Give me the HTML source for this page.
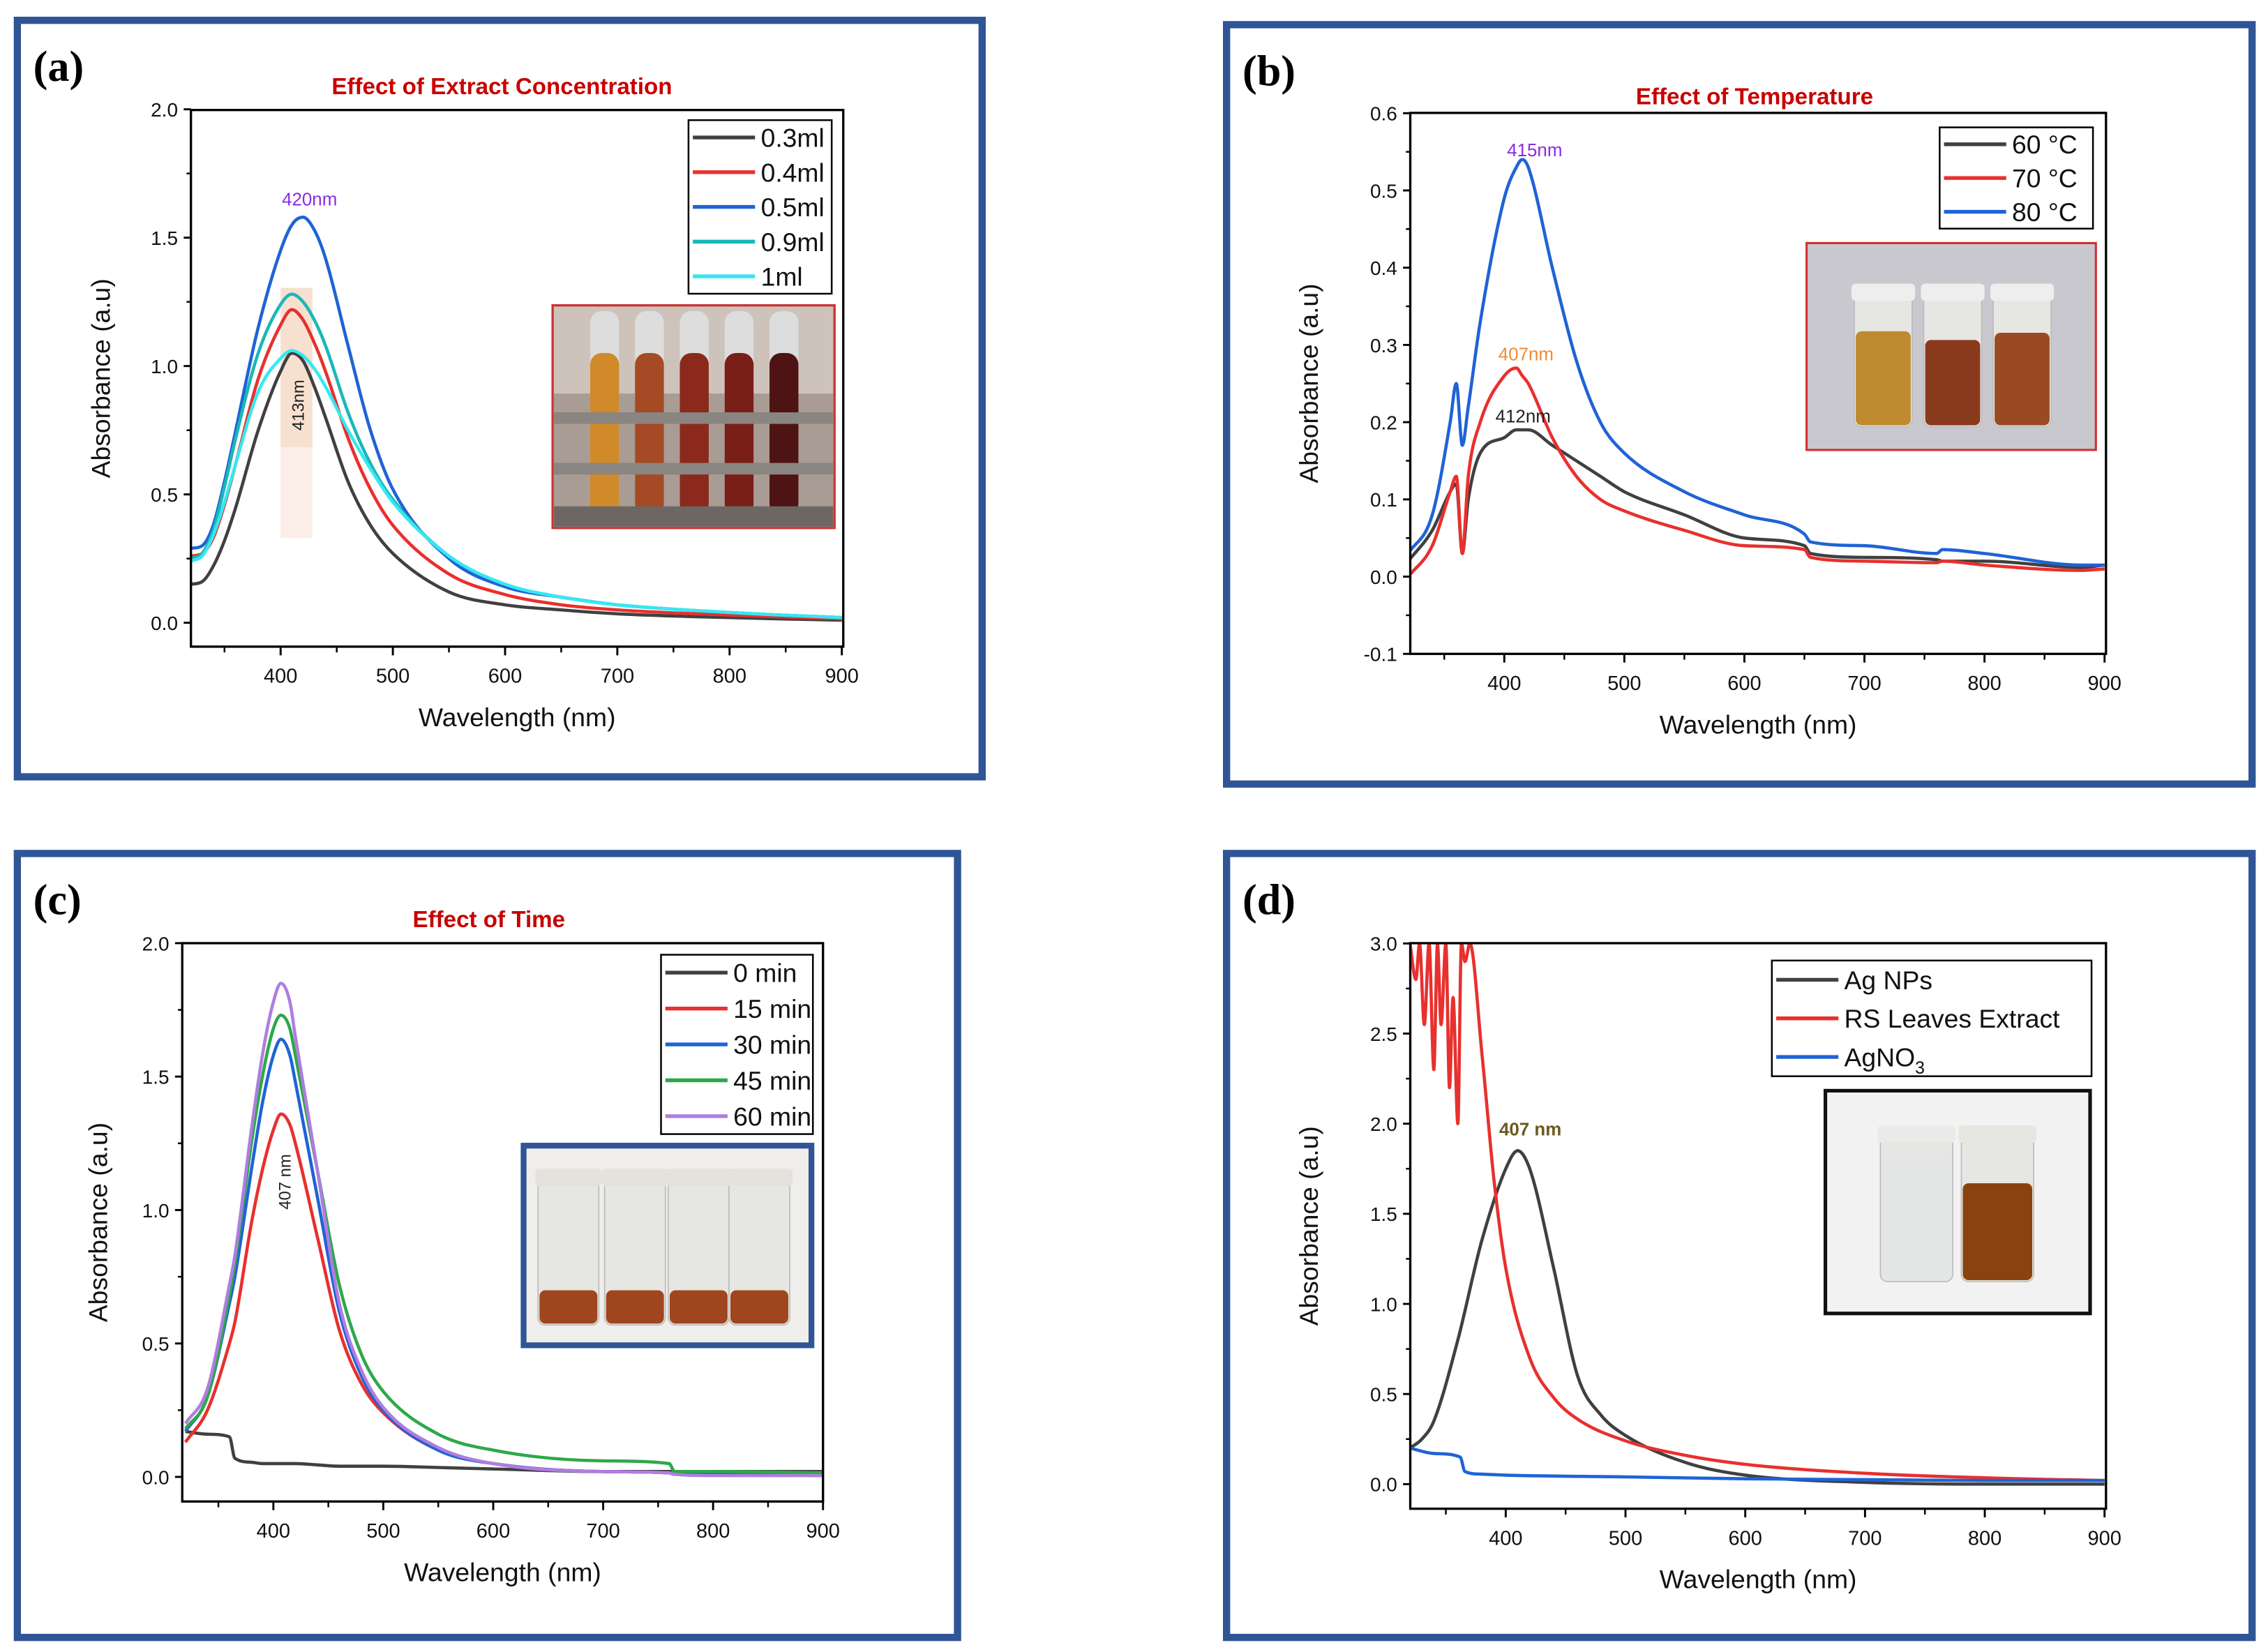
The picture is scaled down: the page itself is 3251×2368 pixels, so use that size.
<!DOCTYPE html>
<html><head><meta charset="utf-8"><style>
html,body{margin:0;padding:0;background:#fff}
svg{display:block}
</style></head><body>
<svg id="fig" width="3251" height="2368" viewBox="0 0 1568 1142" xmlns="http://www.w3.org/2000/svg" font-family="Liberation Sans, sans-serif"></svg>
<script>
// ---------- Panel (a) data ----------
const aX = [320,330,340,350,360,380,400,410,420,430,440,460,480,500,550,600,650,700,800,900];
const a03 = [0.15,0.16,0.22,0.32,0.45,0.75,0.98,1.05,1.02,0.92,0.80,0.55,0.38,0.27,0.12,0.07,0.05,0.035,0.02,0.01];
const a04 = [0.26,0.27,0.33,0.46,0.62,0.95,1.16,1.22,1.18,1.09,0.98,0.72,0.52,0.38,0.19,0.11,0.07,0.05,0.03,0.015];
const a05 = [0.29,0.30,0.38,0.55,0.75,1.15,1.45,1.55,1.58,1.53,1.42,1.08,0.75,0.52,0.25,0.14,0.10,0.07,0.04,0.02];
const a09 = [0.25,0.27,0.36,0.53,0.72,1.05,1.24,1.28,1.25,1.18,1.08,0.82,0.62,0.48,0.26,0.15,0.10,0.07,0.04,0.02];
const a10 = [0.24,0.26,0.34,0.47,0.62,0.90,1.03,1.06,1.04,0.99,0.92,0.75,0.60,0.47,0.26,0.15,0.10,0.07,0.04,0.02];
const aYTicks = ["0.0","0.5","1.0","1.5","2.0"];
const xTicks = ["400","500","600","700","800","900"];
// ---------- Panel (b) data ----------
const bX = [320,340,355,360,365,370,380,400,410,415,420,440,460,480,500,550,600,650,655,700,760,765,800,880,900];
const b80 = [0.03,0.08,0.20,0.25,0.17,0.22,0.33,0.49,0.53,0.54,0.53,0.40,0.28,0.20,0.16,0.11,0.08,0.055,0.045,0.04,0.03,0.035,0.03,0.015,0.015];
const b70 = [0.0,0.04,0.11,0.13,0.03,0.13,0.20,0.26,0.27,0.26,0.25,0.18,0.13,0.10,0.085,0.06,0.04,0.035,0.025,0.02,0.018,0.02,0.015,0.008,0.01];
const b60 = [0.02,0.06,0.11,0.12,0.03,0.10,0.16,0.18,0.19,0.19,0.19,0.17,0.15,0.13,0.11,0.08,0.05,0.04,0.03,0.025,0.022,0.02,0.02,0.012,0.015];
const bYTicks = ["-0.1","0.0","0.1","0.2","0.3","0.4","0.5","0.6"];
// ---------- Panel (c) data ----------
const cX = [320,340,360,365,380,390,400,407,415,420,440,460,480,500,550,600,700,760,765,800,900];
const c0 = [0.17,0.16,0.15,0.07,0.055,0.05,0.05,0.05,0.05,0.05,0.045,0.04,0.04,0.04,0.035,0.03,0.02,0.02,0.02,0.02,0.02];
const c15 = [0.13,0.25,0.5,0.58,0.95,1.15,1.30,1.36,1.32,1.25,0.90,0.55,0.35,0.24,0.10,0.05,0.02,0.015,0.01,0.01,0.005];
const c30 = [0.17,0.30,0.65,0.75,1.15,1.40,1.58,1.64,1.58,1.48,1.05,0.62,0.38,0.25,0.10,0.05,0.02,0.015,0.01,0.01,0.005];
const c45 = [0.18,0.30,0.68,0.80,1.25,1.50,1.68,1.73,1.68,1.58,1.15,0.72,0.46,0.32,0.16,0.10,0.06,0.05,0.02,0.02,0.015];
const c60 = [0.20,0.33,0.72,0.83,1.30,1.58,1.78,1.85,1.78,1.65,1.15,0.65,0.40,0.26,0.11,0.05,0.02,0.015,0.01,0.005,0.005];
const cYTicks = ["0.0","0.5","1.0","1.5","2.0"];
// ---------- Panel (d) data ----------
const dAgX = [320,330,340,360,380,400,410,420,440,460,480,500,550,600,700,800,900];
const dAg = [0.2,0.25,0.35,0.8,1.35,1.75,1.85,1.75,1.2,0.6,0.38,0.27,0.12,0.05,0.01,0.0,0.0];
const dRSX = [320,325,328,332,336,340,343,346,350,353,356,360,363,366,370,380,390,400,420,440,460,500,550,600,700,800,900];
const dRS = [3.0,2.8,3.0,2.55,3.0,2.3,3.0,2.55,3.0,2.2,2.7,2.0,3.0,2.9,3.0,2.4,1.7,1.2,0.7,0.48,0.36,0.24,0.16,0.11,0.06,0.035,0.02];
const dNX = [320,340,362,366,380,400,500,600,700,800,900];
const dN = [0.2,0.17,0.15,0.07,0.055,0.05,0.04,0.03,0.025,0.02,0.02];
const dYTicks = ["0.0","0.5","1.0","1.5","2.0","2.5","3.0"];

const NS="http://www.w3.org/2000/svg";
const svg=document.getElementById('fig');
function el(tag,attrs,parent,txt){const e=document.createElementNS(NS,tag);for(const k in attrs)e.setAttribute(k,attrs[k]);if(txt!==undefined)e.textContent=txt;(parent||svg).appendChild(e);return e;}

// monotone cubic path (no overshoot)
function monoPath(P){
  const n=P.length;if(n<2)return '';
  const d=[],m=[];
  for(let i=0;i<n-1;i++){d.push((P[i+1][1]-P[i][1])/(P[i+1][0]-P[i][0]));}
  m[0]=d[0];m[n-1]=d[n-2];
  for(let i=1;i<n-1;i++){m[i]=(d[i-1]*d[i]<=0)?0:(d[i-1]+d[i])/2;}
  for(let i=0;i<n-1;i++){if(d[i]===0){m[i]=0;m[i+1]=0;continue;}
    const a=m[i]/d[i],b=m[i+1]/d[i],s=a*a+b*b;if(s>9){const t=3/Math.sqrt(s);m[i]=t*a*d[i];m[i+1]=t*b*d[i];}}
  let s='M'+P[0][0].toFixed(1)+','+P[0][1].toFixed(1);
  for(let i=0;i<n-1;i++){const h=(P[i+1][0]-P[i][0])/3;
    s+=' C'+(P[i][0]+h).toFixed(1)+','+(P[i][1]+m[i]*h).toFixed(1)+' '+(P[i+1][0]-h).toFixed(1)+','+(P[i+1][1]-m[i+1]*h).toFixed(1)+' '+P[i+1][0].toFixed(1)+','+P[i+1][1].toFixed(1);}
  return s;
}

function panel(cfg){
  const g=el('g',{});
  
  
  const f=el('rect',{x:cfg.frame[0],y:cfg.frame[1],width:cfg.frame[2],height:cfg.frame[3],fill:'#fff',stroke:'#2f5597','stroke-width':5},g);
  
  
  const lab=el('text',{x:cfg.frame[0]+11,y:cfg.frame[1]+42,'font-size':30,'font-weight':'bold','font-family':'Liberation Serif, serif'},g,cfg.letter);
  
  
  const [L,T,R,B]=cfg.plot;
  const sx=v=>cfg.x0px+(v-400)*cfg.xpp;
  const sy=v=>cfg.y0px-v*cfg.ypp;
  if(cfg.title){const t=el('text',{x:cfg.title[0],y:cfg.title[1],'text-anchor':'middle','font-size':16,'font-weight':'bold',fill:'#c80000'},g,cfg.title[2]);
    
    }
  const cp='clip'+cfg.letter.replace(/\W/g,'');
  const cl=el('clipPath',{id:cp},g);el('rect',{x:L,y:T,width:R-L,height:B-T},cl);
  if(cfg.extra)cfg.extra(g,sx,sy);
  const sg=el('g',{'clip-path':'url(#'+cp+')'},g);
  cfg.series.forEach(s=>{
    const P=s.x.map((x,i)=>[sx(x),sy(s.y[i])]);
    const p=el('path',{d:monoPath(P),fill:'none',stroke:s.c,'stroke-width':2.2,'stroke-linejoin':'round'},sg);
    
    
  });
  const ax=el('rect',{x:L,y:T,width:R-L,height:B-T,fill:'none',stroke:'#000','stroke-width':1.6},g);
  
  
  cfg.yt.forEach(t=>{const v=parseFloat(t),y=sy(v);
    el('line',{x1:L-5,x2:L,y1:y,y2:y,stroke:'#000','stroke-width':1.4},g);
    const hv=v+cfg.yminor,hy=sy(hv);if(hy>T+1&&hy<B-1)el('line',{x1:L-3,x2:L,y1:hy,y2:hy,stroke:'#000','stroke-width':1.2},g);
    const tt=el('text',{x:L-9,y:y+5,'text-anchor':'end','font-size':13.5,fill:'#111'},g,t);
    
    
  });
  const yb=sy(parseFloat(cfg.yt[0])-cfg.yminor);if(yb<B-1)el('line',{x1:L-3,x2:L,y1:yb,y2:yb,stroke:'#000','stroke-width':1.2},g);
  xTicks.forEach(t=>{const v=parseFloat(t),x=sx(v);
    el('line',{x1:x,x2:x,y1:B,y2:B+6,stroke:'#000','stroke-width':1.4},g);
    const mx=sx(v-50);if(mx>L+1)el('line',{x1:mx,x2:mx,y1:B,y2:B+4,stroke:'#000','stroke-width':1.2},g);
    const tt=el('text',{x:x,y:B+25,'text-anchor':'middle','font-size':14,fill:'#111'},g,t);
    
    
  });
  const xl=el('text',{x:(L+R)/2,y:B+55,'text-anchor':'middle','font-size':18,fill:'#111'},g,'Wavelength (nm)');
  
  
  const yx=cfg.ylabx,ymid=(T+B)/2;
  const yl=el('text',{x:yx,y:ymid,'text-anchor':'middle','font-size':18,fill:'#111',transform:`rotate(-90 ${yx} ${ymid})`},g,'Absorbance (a.u)');
  
  
  const [lx,ly,lw,lh]=cfg.leg;
  const lg=el('g',{},g);
  
  
  el('rect',{x:lx,y:ly,width:lw,height:lh,fill:'#fff',stroke:'#000','stroke-width':1.2},lg);
  const rh=lh/cfg.series.length;
  cfg.series.forEach((s,i)=>{const yy=ly+rh*(i+0.5);
    const e=el('g',{},lg);
    
    
    el('line',{x1:lx+3,x2:lx+46,y1:yy,y2:yy,stroke:s.c,'stroke-width':2.6},e);
    const t=el('text',{x:lx+50,y:yy+6.5,'font-size':18,fill:'#111'},e,s.n);
    if(s.sub){el('tspan',{'font-size':12,dy:5},t,s.sub);}
  });
  if(cfg.inset)cfg.inset(g);
  (cfg.notes||[]).forEach(n=>{const t=el('text',{x:n[0],y:n[1],'font-size':n[4]||12,fill:n[3],'font-weight':n[5]||'normal','text-anchor':'middle'},g,n[2]);
    
    });
}

function vial(g,x,y,w,h,liqTop,col,cap){
  el('rect',{x:x,y:y,width:w,height:h,rx:5,fill:'#e6e6e2',stroke:'#bbb','stroke-width':0.8},g);
  el('rect',{x:x+1,y:liqTop,width:w-2,height:y+h-liqTop-1,rx:4,fill:col},g);
  if(cap)el('rect',{x:x-2,y:y-8,width:w+4,height:12,rx:3,fill:cap},g);
}

panel({name:'panel-a-extract-concentration',letter:'(a)',frame:[12,14,667,523],plot:[132,76,583,447],
  x0px:194,xpp:0.776,y0px:430.5,ypp:177.5,yminor:0.25,yt:aYTicks,ylabx:76,
  title:[347,65,'Effect of Extract Concentration'],
  leg:[476,83,99,120],
  series:[{n:'0.3ml',c:'#404040',x:aX,y:a03},{n:'0.4ml',c:'#e8302e',x:aX,y:a04},{n:'0.5ml',c:'#1f63d6',x:aX,y:a05},{n:'0.9ml',c:'#19b8b8',x:aX,y:a09},{n:'1ml',c:'#35e8f2',x:aX,y:a10}],
  extra:(g)=>{el('rect',{x:194,y:199,width:22,height:173,fill:'#fbeee6'},g);el('rect',{x:194,y:199,width:22,height:110,fill:'#f8dccb',opacity:0.8},g);
    el('text',{x:210,y:280,'font-size':11.5,'text-anchor':'middle',transform:'rotate(-90 210 280)',fill:'#222'},g,'413nm');},
  notes:[[214,142,'420nm','#8a2be2',12.5]],
  inset:(g)=>{const ig=el('g',{},g);
    el('rect',{x:382,y:211,width:195,height:154,fill:'#a89c94',stroke:'#d03030','stroke-width':1.5},ig);
    el('rect',{x:383,y:212,width:193,height:60,fill:'#cdc3bb'},ig);
    const cols=['#d08a2a','#a54a24','#8b2a1c','#7a1e18','#4e1414'];
    cols.forEach((c,i)=>{const x=408+i*31;el('rect',{x:x,y:215,width:20,height:140,rx:8,fill:'#ddd'},ig);el('rect',{x:x,y:244,width:20,height:112,rx:8,fill:c},ig);});
    el('rect',{x:383,y:285,width:193,height:8,fill:'#8a8580'},ig);el('rect',{x:383,y:320,width:193,height:8,fill:'#8a8580'},ig);
    el('rect',{x:383,y:350,width:193,height:14,fill:'#6d6763'},ig);}
});
panel({name:'panel-b-temperature',letter:'(b)',frame:[848,17,709,525],plot:[975,78,1456,452],
  x0px:1040,xpp:0.83,y0px:398.6,ypp:534,yminor:0.05,yt:bYTicks,ylabx:911,
  title:[1213,72,'Effect of Temperature'],
  leg:[1341,88,106,70],
  series:[{n:'60 °C',c:'#404040',x:bX,y:b60},{n:'70 °C',c:'#e8302e',x:bX,y:b70},{n:'80 °C',c:'#1f63d6',x:bX,y:b80}],
  notes:[[1061,108,'415nm','#8a2be2',12.5],[1055,249,'407nm','#f08a30',12.5],[1053,292,'412nm','#222',12.5]],
  inset:(g)=>{const ig=el('g',{},g);
    el('rect',{x:1249,y:168,width:200,height:143,fill:'#c9c8cf',stroke:'#d03030','stroke-width':1.5},ig);
    vial(ig,1282,204,40,91,229,'#c08a30','#eee');vial(ig,1330,204,40,91,235,'#8a3a1c','#eee');vial(ig,1378,204,40,91,230,'#9a4a22','#eee');}
});
panel({name:'panel-c-time',letter:'(c)',frame:[12,590,650,542],plot:[126,652,569,1038],
  x0px:189,xpp:0.76,y0px:1021,ypp:184.5,yminor:0.25,yt:cYTicks,ylabx:74,
  title:[338,641,'Effect of  Time'],
  leg:[457,660,105,124],
  series:[{n:'0 min',c:'#404040',x:cX,y:c0},{n:'15 min',c:'#e8302e',x:cX,y:c15},{n:'30 min',c:'#1f63d6',x:cX,y:c30},{n:'45 min',c:'#2ea84a',x:cX,y:c45},{n:'60 min',c:'#b07de0',x:cX,y:c60}],
  extra:(g)=>{el('text',{x:201,y:817,'font-size':11.5,'text-anchor':'middle',transform:'rotate(-90 201 817)',fill:'#222'},g,'407 nm');},
  inset:(g)=>{const ig=el('g',{},g);
    el('rect',{x:362,y:792,width:199,height:138,fill:'#f0eeea',stroke:'#2f5597','stroke-width':4},ig);
    [372,418,462,504].forEach(x=>vial(ig,x,816,42,100,892,'#a0461e','#e4e2dc'));}
});
panel({name:'panel-d-controls',letter:'(d)',frame:[848,590,709,542],plot:[975,652,1456,1043],
  x0px:1041,xpp:0.828,y0px:1026,ypp:124.6,yminor:0.25,yt:dYTicks,ylabx:911,
  leg:[1225,664,221,80],
  series:[{n:'Ag NPs',c:'#404040',x:dAgX,y:dAg},{n:'RS Leaves Extract',c:'#e8302e',x:dRSX,y:dRS},{n:'AgNO',sub:'3',c:'#1f63d6',x:dNX,y:dN}],
  notes:[[1058,785,'407 nm','#6b5a1e',12.5,'bold']],
  inset:(g)=>{const ig=el('g',{},g);
    el('rect',{x:1262,y:754,width:183,height:154,fill:'#f2f2f2',stroke:'#111','stroke-width':2.5},ig);
    vial(ig,1300,786,50,100,800,'#e4e6e6','#eaeaea');vial(ig,1356,786,50,100,818,'#8a4210','#e8e6e0');}
});
</script>
</body></html>
